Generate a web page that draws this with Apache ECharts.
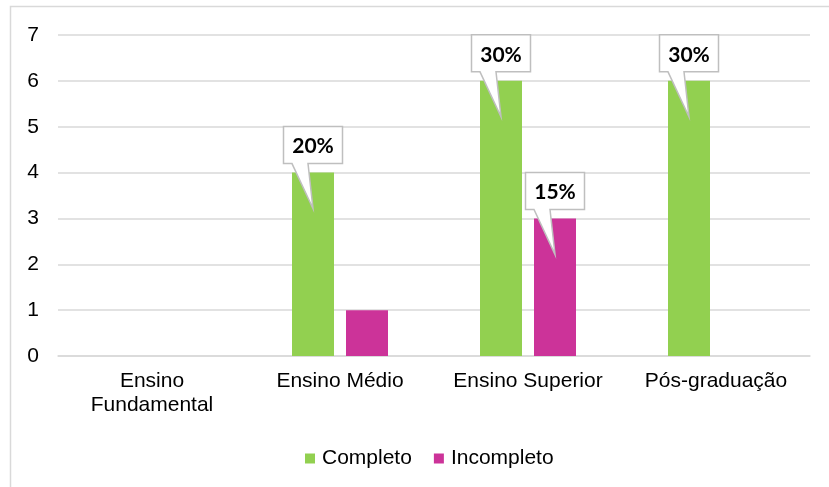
<!DOCTYPE html>
<html>
<head>
<meta charset="utf-8">
<script src="https://cdn.jsdelivr.net/npm/echarts@6/dist/echarts.min.js"></script>
<style>
  html, body { margin: 0; padding: 0; background: #fff; }
  #chart { width: 829px; height: 487px; }
</style>
</head>
<body>
<div id="chart"></div>
<script>
// Escolaridade: número de respondentes por nível, completo x incompleto
const categories = ['Ensino\nFundamental', 'Ensino Médio', 'Ensino Superior', 'Pós-graduação'];
const completo = [0, 4, 6, 6];
const incompleto = [0, 1, 3, 0];
// which bars carry a percentage callout
const completoCallout = [false, true, true, true];
const incompletoCallout = [false, false, true, false];
const yTicks = [0, 1, 2, 3, 4, 5, 6, 7];

const GREEN = '#92D050';
const MAGENTA = '#CC3399';
const BAR_W = 42;
const BAR_GAP = 12;
const FONT = '"Liberation Sans", Arial, sans-serif';

const total = completo.concat(incompleto).reduce((a, b) => a + b, 0);
const pct = v => Math.round(v / total * 100) + '%';

// callout items: [categoryIndex, value, side(-1 left bar / +1 right bar)]
const callouts = [];
completo.forEach((v, i) => { if (completoCallout[i]) callouts.push([i, v, -1]); });
incompleto.forEach((v, i) => { if (incompletoCallout[i]) callouts.push([i, v, 1]); });

function renderCallout(params, api) {
  const v = api.value(1);
  const p = api.coord([api.value(0), v]);
  const cx = p[0] + api.value(2) * (BAR_W + BAR_GAP) / 2;
  const top = p[1];
  const L = -29.5, R = 29.5, T = -46, B = -9;
  const pts = [[L, T], [R, T], [R, B], [-5, B], [0, 36], [-21, B], [L, B]]
    .map(q => [cx + q[0], top + q[1]]);
  return {
    type: 'group',
    children: [
      { type: 'polygon', shape: { points: pts },
        style: { fill: '#fff', stroke: '#bfbfbf', lineWidth: 1.5 } },
      { type: 'text',
        style: { text: pct(v), x: cx, y: top - 26, align: 'center', verticalAlign: 'middle',
          font: 'bold 21px Lato, "Open Sans", sans-serif', fill: '#000' } }
    ]
  };
}

const chart = echarts.init(document.getElementById('chart'));
chart.setOption({
  animation: false,
  backgroundColor: '#fff',
  graphic: [{
    type: 'rect', silent: true, z: -10,
    shape: { x: 10.5, y: 6.5, width: 900, height: 600 },
    style: { fill: 'none', stroke: '#d9d9d9', lineWidth: 1.5 }
  }],
  grid: { left: 58, right: 19, top: 35, bottom: 131, containLabel: false },
  legend: {
    top: 443, left: 300,
    itemWidth: 10, itemHeight: 10, itemGap: 22,
    icon: 'rect',
    textStyle: { fontFamily: FONT, fontSize: 21, color: '#000', padding: [0, 0, 0, 2] },
    data: ['Completo', 'Incompleto']
  },
  xAxis: {
    type: 'category', data: categories,
    axisLine: { lineStyle: { color: '#d9d9d9', width: 1.5 } },
    axisTick: { show: false },
    axisLabel: { fontFamily: FONT, fontSize: 21, color: '#000', margin: 13, lineHeight: 24, interval: 0 }
  },
  yAxis: {
    type: 'value', min: yTicks[0], max: yTicks[yTicks.length - 1], interval: 1,
    axisLine: { show: false }, axisTick: { show: false },
    splitLine: { lineStyle: { color: '#d9d9d9', width: 1.5 } },
    axisLabel: { fontFamily: FONT, fontSize: 21, color: '#000', margin: 19 }
  },
  series: [
    { name: 'Completo', type: 'bar', data: completo, barWidth: BAR_W,
      barGap: (BAR_GAP / BAR_W * 100) + '%', itemStyle: { color: GREEN } },
    { name: 'Incompleto', type: 'bar', data: incompleto, barWidth: BAR_W,
      itemStyle: { color: MAGENTA } },
    { type: 'custom', data: callouts, renderItem: renderCallout, z: 10,
      encode: { x: 0, y: 1 }, silent: true }
  ]
});
</script>
</body>
</html>
